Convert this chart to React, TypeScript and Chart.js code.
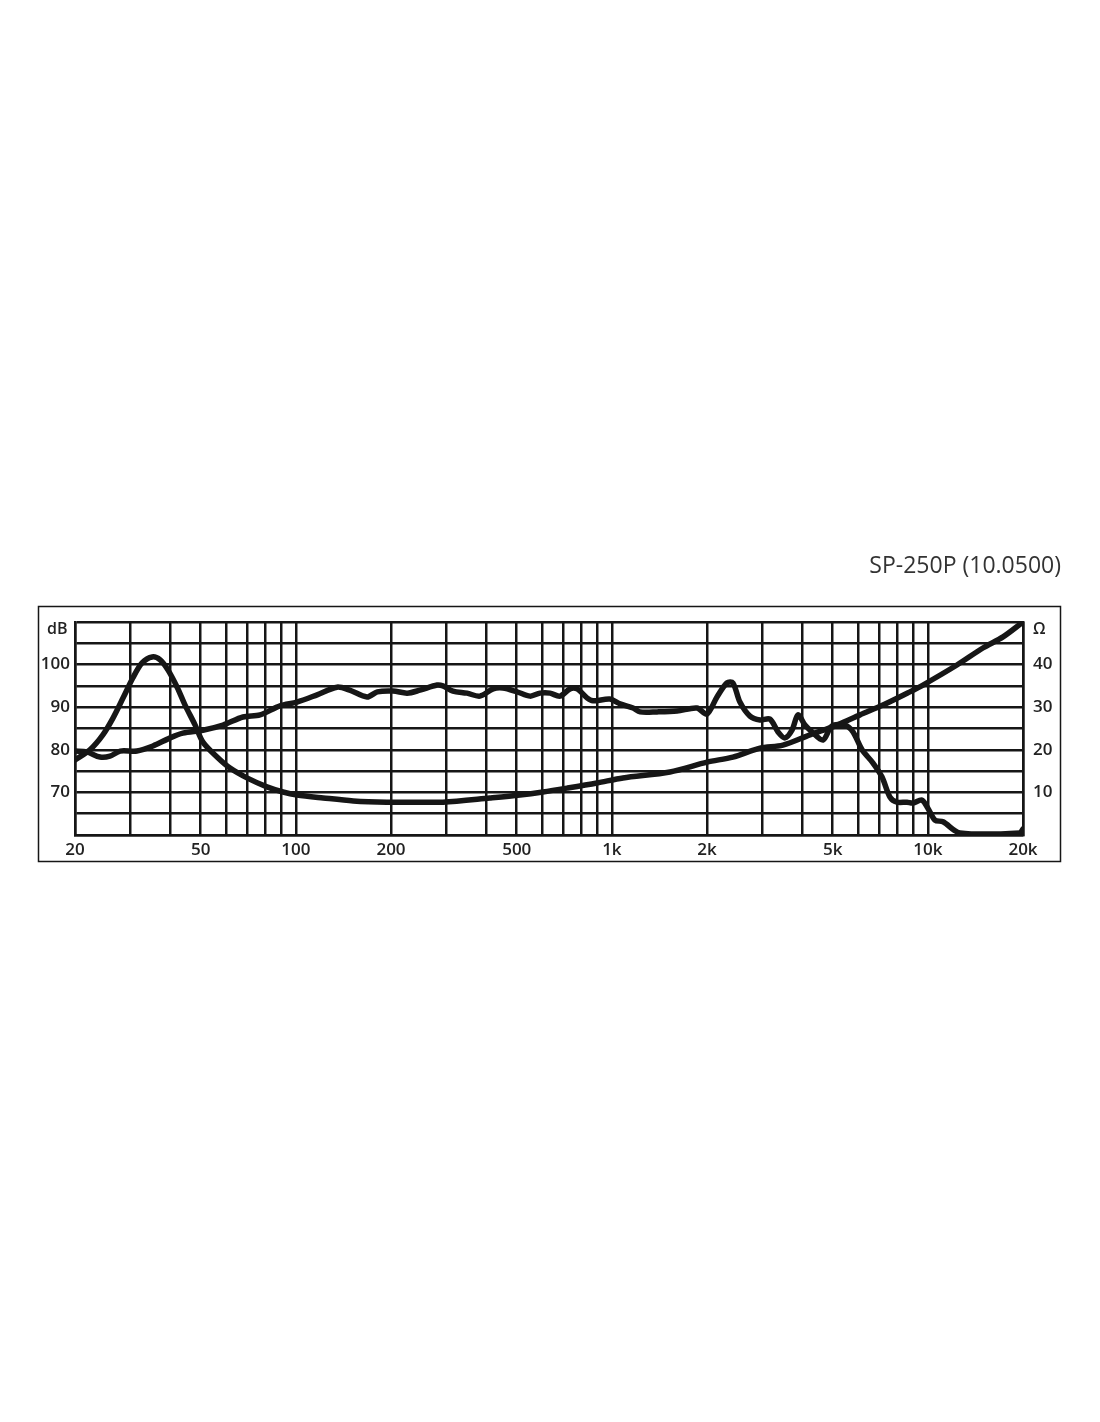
import React, { useEffect, useRef } from 'react';
import { Chart, registerables } from 'chart.js';

Chart.register(...registerables);

const TITLE = 'SP-250P (10.0500)';
const LEFT_UNIT = 'dB';
const RIGHT_UNIT = 'Ω';

const xGridValues = [20, 30, 40, 50, 60, 70, 80, 90, 100, 200, 300, 400, 500, 600, 700, 800, 900, 1000, 2000, 3000, 4000, 5000, 6000, 7000, 8000, 9000, 10000, 20000];
const xLabelValues = [20, 50, 100, 200, 500, 1000, 2000, 5000, 10000, 20000];
const xLabelTexts = ['20', '50', '100', '200', '500', '1k', '2k', '5k', '10k', '20k'];
const dbLabelValues = [70, 80, 90, 100];
const ohmLabelValues = [10, 20, 30, 40];

// Frequency response (dB)
const splFreq = [20, 21.8, 24.0, 25.8, 27.8, 31.4, 35.3, 40.0, 43.9, 50.8, 58.8, 68.0, 77.0, 89.1, 100.8, 116.7, 135, 148, 168, 181, 203, 225, 247, 280, 292, 314, 348, 382, 421, 452, 501, 551, 592, 637, 685, 737, 776, 834, 871, 986, 1061, 1167, 1228, 1390, 1608, 1858, 2000, 2151, 2313, 2416, 2542, 2735, 2943, 3164, 3356, 3532, 3715, 3882, 4084, 4297, 4656, 4969, 5466, 5795, 6190, 6705, 7161, 7586, 7980, 8590, 8974, 9572, 10000, 10530, 11170, 12620, 19540, 20000];
const splDb = [79.7, 79.5, 78.3, 78.5, 79.7, 79.7, 80.9, 82.8, 83.9, 84.6, 85.8, 87.7, 88.2, 90.3, 91.2, 92.9, 94.7, 94.0, 92.4, 93.6, 93.8, 93.3, 94.0, 95.2, 95.0, 93.8, 93.3, 92.6, 94.3, 94.5, 93.6, 92.6, 93.3, 93.3, 92.6, 94.3, 94.3, 92.2, 91.5, 91.9, 90.8, 89.8, 88.9, 88.9, 89.1, 89.8, 88.4, 92.4, 95.7, 95.7, 91.2, 87.9, 87.0, 87.2, 84.2, 82.8, 84.6, 88.2, 85.8, 84.2, 82.3, 85.6, 85.8, 84.2, 80.0, 76.9, 73.6, 68.9, 67.7, 67.7, 67.5, 68.2, 66.3, 63.5, 63.1, 60.5, 60.5, 61.4];

// Impedance (Ω)
const impFreq = [20, 22.3, 24.5, 26.4, 28.4, 30.5, 32.6, 35.1, 37.2, 39.4, 42.1, 44.6, 48.0, 50.8, 56.3, 61.9, 70, 81, 91, 100.8, 122, 152, 194, 247, 292, 411, 512, 605, 721, 897, 1084, 1527, 2000, 2416, 2943, 3478, 4234, 5156, 6098, 7210, 8774, 9651, 12360, 14930, 17290, 20000];
const impOhm = [17.6, 20.0, 23.5, 27.5, 32.2, 36.9, 40.4, 41.8, 41.1, 38.7, 34.7, 30.5, 25.8, 21.8, 18.3, 15.7, 13.4, 11.3, 10.1, 9.4, 8.7, 8.0, 7.7, 7.7, 7.7, 8.7, 9.4, 10.1, 11.0, 12.2, 13.4, 14.8, 17.1, 18.3, 20.4, 21.1, 23.5, 25.8, 28.2, 30.5, 33.6, 35.2, 39.9, 43.9, 46.5, 50.0];

const FONT = '"Open Sans", "DejaVu Sans", sans-serif';
const INK = '#161616';

const decorPlugin = {
  id: 'decor',
  afterDraw(chart: any) {
    const ctx = chart.ctx;
    const a = chart.chartArea;
    ctx.save();
    // outer frame
    ctx.strokeStyle = INK;
    ctx.lineWidth = 1.5;
    ctx.strokeRect(a.left - 37 + 0.5, a.top - 16 + 0.5, a.right - a.left + 37 + 38 - 1, a.bottom - a.top + 16 + 27 - 1);
    // unit labels
    ctx.fillStyle = '#222';
    ctx.font = `600 16px ${FONT}`;
    ctx.textBaseline = 'middle';
    ctx.textAlign = 'left';
    ctx.fillText(LEFT_UNIT, a.left - 28, a.top + 7);
    ctx.fillText(RIGHT_UNIT, a.right + 10, a.top + 7);
    // title
    ctx.fillStyle = '#333';
    ctx.font = `400 23px ${FONT}`;
    ctx.textAlign = 'right';
    ctx.fillText(TITLE, a.right + 38, a.top - 56);
    ctx.restore();
  },
};

const tickFont = { family: FONT, size: 17, weight: '600' };

export default function App() {
  const ref = useRef<HTMLCanvasElement | null>(null);

  useEffect(() => {
    if (!ref.current) return;
    const lineStyle = {
      borderColor: INK,
      borderWidth: 5.5,
      pointRadius: 0,
      tension: 0.3,
      borderJoinStyle: 'round',
      borderCapStyle: 'round',
      fill: false,
    };
    const chart = new Chart(ref.current, {
      type: 'line',
      data: {
        datasets: [
          {
            label: 'SPL',
            data: splFreq.map((f, i) => ({ x: f, y: splDb[i] })),
            yAxisID: 'y',
            ...lineStyle,
          },
          {
            label: 'Impedance',
            data: impFreq.map((f, i) => ({ x: f, y: impOhm[i] })),
            yAxisID: 'y2',
            ...lineStyle,
          },
        ],
      },
      options: {
        responsive: false,
        animation: false,
        devicePixelRatio: 1,
        layout: { padding: { left: 38, right: 39, top: 622, bottom: 560 } },
        plugins: {
          legend: { display: false },
          tooltip: { enabled: false },
          title: { display: false },
        },
        scales: {
          x: {
            type: 'logarithmic',
            min: 20,
            max: 20000,
            afterBuildTicks: (scale: any) => {
              scale.ticks = xGridValues.map((v) => ({ value: v }));
            },
            afterFit: (scale: any) => {
              scale.height = 27;
            },
            grid: { color: INK, lineWidth: 2.5, drawTicks: false },
            border: { display: true, color: INK, width: 2.5 },
            ticks: {
              autoSkip: false,
              maxRotation: 0,
              padding: 5,
              color: '#222',
              font: tickFont,
              callback: (value: any) => {
                const idx = xLabelValues.indexOf(Number(value));
                return idx >= 0 ? xLabelTexts[idx] : '';
              },
            },
          },
          y: {
            type: 'linear',
            position: 'left',
            min: 60,
            max: 110,
            afterFit: (scale: any) => {
              scale.width = 37;
            },
            grid: { color: INK, lineWidth: 2.5, drawTicks: false },
            border: { display: true, color: INK, width: 2.5 },
            ticks: {
              stepSize: 5,
              autoSkip: false,
              padding: 5,
              color: '#222',
              font: tickFont,
              callback: (value: any) => (dbLabelValues.includes(Number(value)) ? String(value) : ''),
            },
          },
          y2: {
            type: 'linear',
            position: 'right',
            min: 0,
            max: 50,
            afterFit: (scale: any) => {
              scale.width = 38;
            },
            grid: { display: false, drawTicks: false },
            border: { display: true, color: INK, width: 2.5 },
            ticks: {
              stepSize: 5,
              autoSkip: false,
              padding: 10,
              color: '#222',
              font: tickFont,
              callback: (value: any) => (ohmLabelValues.includes(Number(value)) ? String(value) : ''),
            },
          },
        },
      },
      plugins: [decorPlugin],
    } as any);
    return () => chart.destroy();
  }, []);

  return (
    <div style={{ position: 'absolute', left: 0, top: 0, width: 1100, height: 1422, background: '#fff' }}>
      <canvas ref={ref} width={1100} height={1422} style={{ width: 1100, height: 1422, display: 'block' }} />
    </div>
  );
}
